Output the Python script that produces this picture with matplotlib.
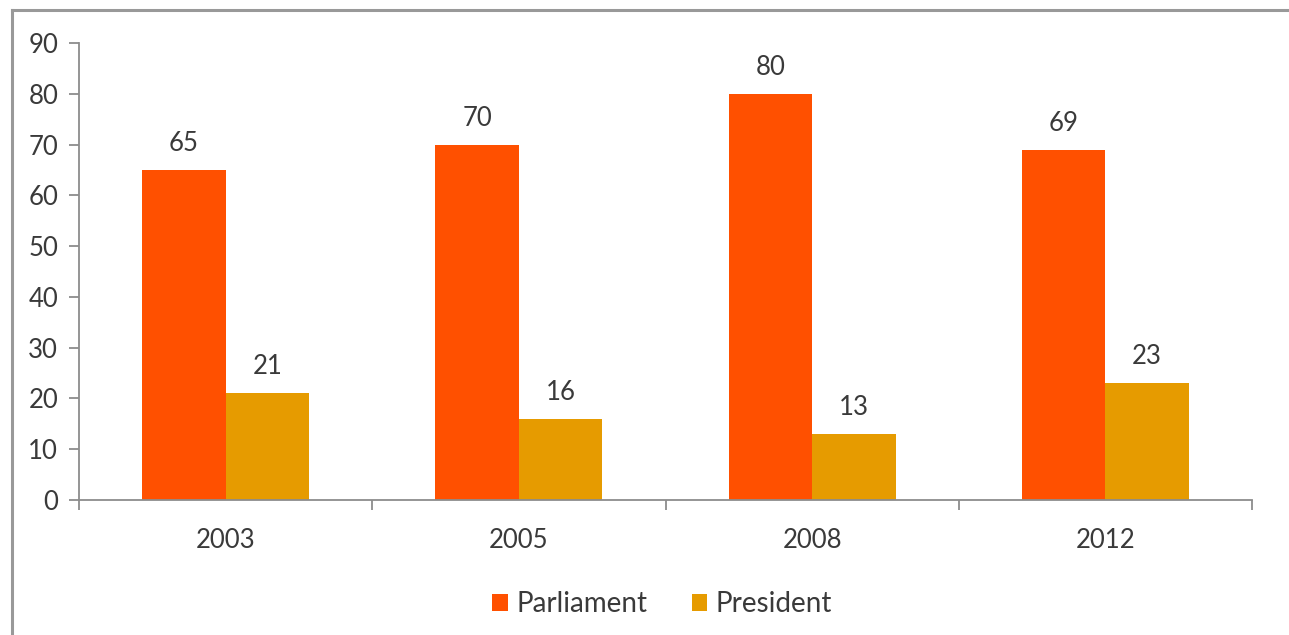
import matplotlib
matplotlib.use("Agg")
import matplotlib.pyplot as plt
import numpy as np
from matplotlib.lines import Line2D

years = ["2003", "2005", "2008", "2012"]
parliament = [65, 70, 80, 69]
president = [21, 16, 13, 23]
series_names = ["Parliament", "President"]
colors = ["#FF5000", "#E69B00"]

plt.rcParams['font.family'] = ['Lato', 'DejaVu Sans']
text_color = "#3A3A3A"
axis_color = "#8C8C8C"
fs = 18.5

fig = plt.figure(figsize=(12.89, 6.35), dpi=100)
ax = fig.add_axes([79/1289, 1 - 500/635, (1252-79)/1289, (500-43)/635])

x = np.arange(len(years))
w = 0.285
b1 = ax.bar(x - w/2, parliament, w, color=colors[0], label=series_names[0])
b2 = ax.bar(x + w/2, president, w, color=colors[1], label=series_names[1])

for bars, vals in ((b1, parliament), (b2, president)):
    for r, v in zip(bars, vals):
        ax.annotate(str(v), (r.get_x() + r.get_width()/2, v), xytext=(0, 10),
                    textcoords="offset points", ha="center", va="bottom",
                    fontsize=fs, color=text_color)

ax.set_xlim(-0.5, len(years) - 0.5)
ax.set_ylim(0, 90)
ax.set_yticks(range(0, 91, 10))
ax.tick_params(axis='y', labelsize=fs, colors=axis_color, labelcolor=text_color,
               length=7, width=1.3, pad=8)
ax.set_xticks(x)
ax.set_xticklabels(years)
ax.tick_params(axis='x', which='major', length=0, labelsize=fs, labelcolor=text_color, pad=20)
ax.set_xticks(np.arange(-0.5, len(years), 1), minor=True)
ax.tick_params(axis='x', which='minor', length=7, width=1.3, colors=axis_color)

for s in ("top", "right"):
    ax.spines[s].set_visible(False)
for s in ("left", "bottom"):
    ax.spines[s].set_color(axis_color)
    ax.spines[s].set_linewidth(1.3)

# outer frame (top and left visible)
fig.add_artist(Line2D([12/1289, 1], [1 - 10/635, 1 - 10/635], color="#999999", lw=2.2, transform=fig.transFigure))
fig.add_artist(Line2D([12/1289, 12/1289], [0, 1 - 10/635], color="#999999", lw=2.2, transform=fig.transFigure))

leg = fig.legend(handles=[b1, b2], labels=series_names, loc="center",
                 bbox_to_anchor=(662/1289, 1 - 604/635), ncol=2, frameon=False,
                 fontsize=fs + 1.5, handlelength=0.55, handleheight=0.55, handletextpad=0.3,
                 columnspacing=1.6)
for t in leg.get_texts():
    t.set_color(text_color)

fig.savefig("out.png", dpi=100)
